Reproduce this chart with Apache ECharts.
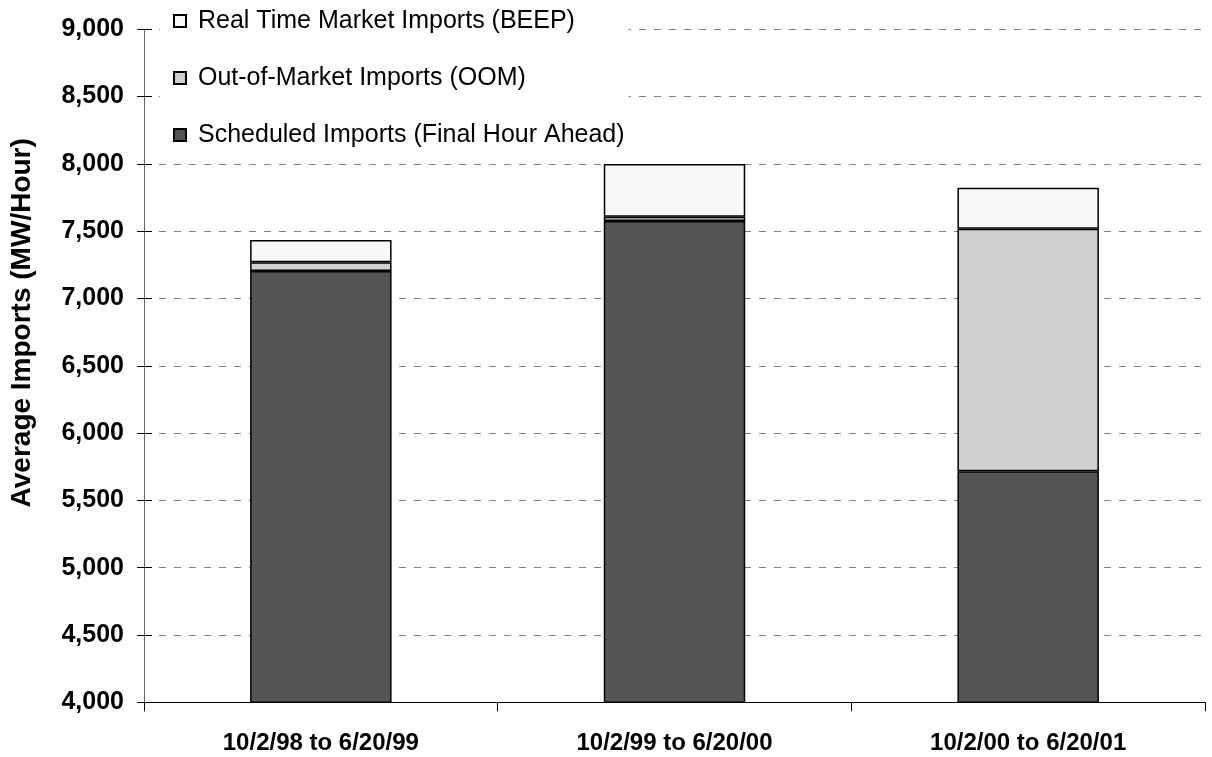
<!DOCTYPE html>
<html>
<head>
<meta charset="utf-8">
<script src="https://cdn.jsdelivr.net/npm/echarts@6/dist/echarts.min.js"></script>
<style>
  html, body { margin: 0; padding: 0; background: #fff; }
  #chart { width: 1212px; height: 757px; }
</style>
</head>
<body>
<div id="chart"></div>
<script>
// Average hourly imports by period, stacked by import type (MW/Hour)
const periods = ['10/2/98 to 6/20/99', '10/2/99 to 6/20/00', '10/2/00 to 6/20/01'];
const scheduledImports = [7204, 7576, 5716];
const oomImports = [65, 32, 1803];
const beepImports = [166, 392, 304];

const seriesNames = [
  'Scheduled Imports (Final Hour Ahead)',
  'Out-of-Market Imports (OOM)',
  'Real Time Market Imports (BEEP)'
];
const legendOrder = [seriesNames[2], seriesNames[1], seriesNames[0]];

const yMin = 4000, yMax = 9000, yStep = 500;
const fontFamily = '"Liberation Sans", Arial, sans-serif';

const chart = echarts.init(document.getElementById('chart'));

function barSeries(name, data, color) {
  return {
    name: name,
    type: 'bar',
    stack: 'imports',
    data: data,
    barWidth: '40%',
    itemStyle: { color: color, borderColor: '#000', borderWidth: 1.5 }
  };
}

chart.setOption({
  animation: false,
  textStyle: { fontFamily: fontFamily },
  grid: { left: 144, right: 7, top: 29.3, bottom: 54.7 },
  legend: {
    data: legendOrder,
    orient: 'vertical',
    left: 160,
    top: 3,
    padding: [5, 4, 5, 13],
    backgroundColor: '#fff',
    itemWidth: 12,
    itemHeight: 12,
    itemGap: 31,
    icon: 'rect',
    textStyle: { fontSize: 25, color: '#000', lineHeight: 26, padding: [0, 0, 0, 7], fontFamily: fontFamily }
  },
  xAxis: {
    type: 'category',
    data: periods,
    axisLine: { lineStyle: { color: '#000', width: 1 } },
    axisTick: { show: true, length: 9, lineStyle: { color: '#000' } },
    axisLabel: { color: '#000', fontSize: 24, fontWeight: 'bold', margin: 29, fontFamily: fontFamily },
    splitLine: { show: false }
  },
  yAxis: [
    {
      type: 'value',
      min: yMin, max: yMax, interval: yStep,
      name: 'Average Imports (MW/Hour)',
      nameLocation: 'middle',
      nameGap: 108,
      nameTextStyle: {
        fontSize: 28, fontWeight: 'bold', color: '#000', fontFamily: fontFamily,
        padding: [0, 0, 0, 86]
      },
      axisLine: { show: true, lineStyle: { color: '#666', width: 1 } },
      axisTick: { show: true, length: 7, lineStyle: { color: '#000' } },
      axisLabel: {
        color: '#000', fontSize: 25, fontWeight: 'bold', margin: 20, fontFamily: fontFamily,
        formatter: v => v.toLocaleString('en-US')
      },
      splitLine: { show: true, lineStyle: { color: '#808080', type: [7, 8], width: 1 } }
    },
    {
      // inner half of the crossing tick marks
      type: 'value',
      min: yMin, max: yMax, interval: yStep,
      position: 'left',
      axisLine: { show: false },
      axisTick: { show: true, inside: true, length: 8, lineStyle: { color: '#000' } },
      axisLabel: { show: false },
      splitLine: { show: false }
    }
  ],
  series: [
    barSeries(seriesNames[0], scheduledImports, '#555555'),
    barSeries(seriesNames[1], oomImports, '#d0d0d0'),
    barSeries(seriesNames[2], beepImports, '#f8f8f8')
  ]
});
</script>
</body>
</html>
